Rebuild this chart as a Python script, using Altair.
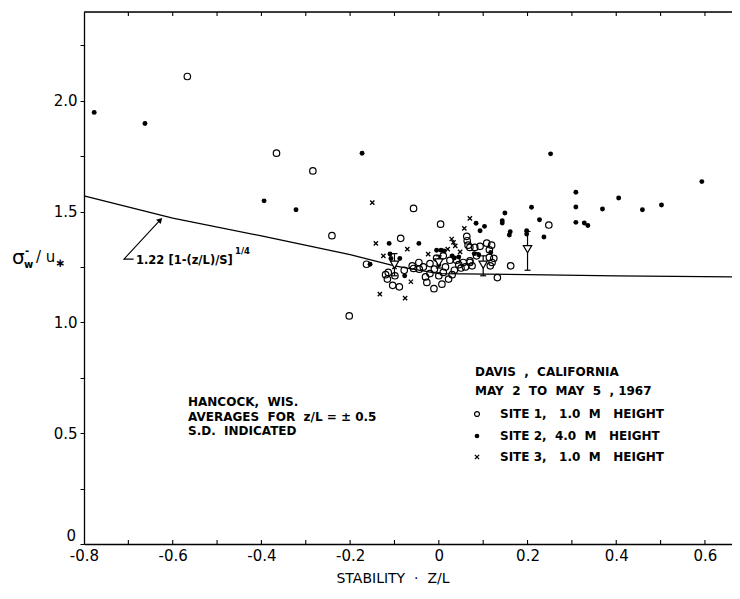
import altair as alt
import pandas as pd

# ---------------- data ----------------
# Site 1, 1.0 m height (open circles)
site1_x = [-0.567, -0.366, -0.284, -0.241, -0.163, -0.202, -0.057, 0.004, -0.086, 0.248,
           0.162, 0.132, -0.114, -0.116, -0.104, -0.089, -0.099, -0.120, -0.078, -0.057,
           -0.044, -0.011, -0.027, 0.007, 0.022, -0.030, -0.020, -0.035, -0.020, -0.010,
           0.000, 0.010, 0.015, 0.030, 0.035, 0.045, 0.050, 0.025, 0.040, 0.055,
           0.060, 0.070, 0.063, 0.064, 0.066, 0.070, 0.081, 0.093, 0.108, 0.119,
           0.114, 0.070, 0.075, 0.114, 0.124, 0.116, 0.085, 0.120, -0.005, 0.010,
           -0.045, -0.060]
site1_y = [2.109, 1.763, 1.683, 1.391, 1.262, 1.029, 1.514, 1.443, 1.379, 1.439,
           1.255, 1.202, 1.225, 1.195, 1.167, 1.160, 1.210, 1.215, 1.235, 1.243,
           1.240, 1.152, 1.180, 1.172, 1.195, 1.205, 1.220, 1.250, 1.265, 1.240,
           1.210, 1.225, 1.250, 1.215, 1.235, 1.260, 1.245, 1.280, 1.280, 1.270,
           1.250, 1.270, 1.388, 1.368, 1.348, 1.338, 1.338, 1.343, 1.357, 1.348,
           1.327, 1.277, 1.255, 1.293, 1.289, 1.255, 1.300, 1.270, 1.290, 1.300,
           1.270, 1.255]

# Site 2, 4.0 m height (filled dots)
site2_x = [-0.777, -0.6625, -0.173, -0.394, -0.322, 0.252, 0.593, 0.309, 0.4055, 0.309,
           0.369, 0.459, 0.502, 0.309, 0.328, 0.336, 0.209, 0.227, 0.237, 0.149,
           0.143, 0.143, 0.161, 0.159, 0.198, 0.198, -0.112, -0.045, -0.110, -0.108,
           -0.088, -0.155, -0.077, 0.084, 0.103, 0.093, 0.117, -0.005, 0.005, 0.012,
           0.030, 0.035, 0.045, 0.080, 0.090, 0.000, 0.000]
site2_y = [1.947, 1.897, 1.763, 1.548, 1.508, 1.760, 1.635, 1.587, 1.561, 1.520,
           1.511, 1.508, 1.529, 1.451, 1.448, 1.437, 1.519, 1.463, 1.385, 1.493,
           1.458, 1.448, 1.409, 1.394, 1.413, 1.398, 1.356, 1.356, 1.308, 1.288,
           1.288, 1.262, 1.210, 1.447, 1.433, 1.413, 1.315, 1.325, 1.325, 1.322,
           1.300, 1.290, 1.295, 1.310, 1.305, 1.280, 1.260]

# Site 3, 1.0 m height (crosses)
site3_x = [-0.150, -0.142, -0.071, -0.063, -0.133, -0.076, 0.029, 0.033, 0.048, -0.024,
           0.0575, 0.070, 0.037, -0.125, 0.020, -0.100]
site3_y = [1.540, 1.356, 1.330, 1.183, 1.127, 1.109, 1.376, 1.361, 1.318, 1.308,
           1.424, 1.469, 1.345, 1.300, 1.330, 1.250]

# Hancock, Wis. averages with S.D.
hancock_x = [-0.1, 0.0, 0.1, 0.2]
hancock_y = [1.26, 1.27, 1.26, 1.33]
hancock_lo = [1.21, 1.245, 1.21, 1.235]
hancock_hi = [1.31, 1.30, 1.30, 1.41]

# 1.22 [1-(z/L)/S]^(1/4) curve
curve_x = [-0.8, -0.6, -0.4, -0.2, -0.1, 0.0, 0.2, 0.4, 0.661]
curve_y = [1.57, 1.47, 1.39, 1.305, 1.255, 1.22, 1.215, 1.21, 1.205]

# leader line of the curve label
leader_x = [-0.688, -0.710, -0.628]
leader_y = [1.285, 1.285, 1.462]

x_ticks = [-0.8, -0.6, -0.4, -0.2, 0.0, 0.2, 0.4, 0.6]
minor_x = [-0.7, -0.6, -0.5, -0.4, -0.3, -0.2, -0.1, 0.0, 0.1, 0.2, 0.3, 0.4, 0.5, 0.6]
y_ticks = [0, 0.25, 0.5, 0.75, 1.0, 1.25, 1.5, 1.75, 2.0, 2.25]

# ---------------- chart ----------------
FONT = "DejaVu Sans"
W, H = 648, 532
X0, Y0 = 84, 12
XMIN, XMAX, YMAX = -0.8, 0.661, 2.4
SP = "\u00a0"

xs = alt.Scale(domain=[XMIN, XMAX], nice=False, zero=False)
ys = alt.Scale(domain=[0, YMAX], nice=False, zero=False)

xaxis = alt.Axis(values=x_ticks, ticks=False, grid=False, domain=True,
                 domainColor="black", domainWidth=1.3, labelFont=FONT,
                 labelFontSize=15, labelColor="black", labelPadding=4,
                 labelFlush=False, labelOverlap=False, title=None,
                 labelExpr="datum.value == 0 ? '0' : (datum.value < 0 ? '-' : '') + format(abs(datum.value), '.1f')")
yaxis = alt.Axis(values=y_ticks, grid=False, domain=True, domainColor="black",
                 domainWidth=1.3, ticks=True, tickSize=4, tickColor="black",
                 labelFont=FONT, labelFontSize=15, labelColor="black",
                 labelPadding=3, labelOverlap=False, title=None,
                 labelExpr="datum.value == 0 ? '' : (round(datum.value * 4) % 2 == 0 ? format(datum.value, '.1f') : '')")


def X(field="x"):
    return alt.X(f"{field}:Q", scale=xs, axis=xaxis)


def Y(field="y"):
    return alt.Y(f"{field}:Q", scale=ys, axis=yaxis)


s1 = pd.DataFrame({"x": site1_x, "y": site1_y})
s2 = pd.DataFrame({"x": site2_x, "y": site2_y})
s3 = pd.DataFrame({"x": site3_x, "y": site3_y})
hk = pd.DataFrame({"x": hancock_x, "y": hancock_y, "lo": hancock_lo, "hi": hancock_hi})
cv = pd.DataFrame({"x": curve_x, "y": curve_y})
ld = pd.DataFrame({"x": leader_x, "y": leader_y, "o": [0, 1, 2]})

tl = 0.018
ticks_df = pd.DataFrame({
    "x": minor_x + minor_x,
    "y": [0.0] * len(minor_x) + [YMAX - tl] * len(minor_x),
    "y2": [tl] * len(minor_x) + [YMAX] * len(minor_x),
})
top_df = pd.DataFrame({"x": [XMIN, XMAX], "y": [YMAX, YMAX]})

layers = []

layers.append(alt.Chart(s1).mark_point(shape="circle", filled=False, stroke="black",
                                        strokeWidth=1.2, size=42, opacity=1)
              .encode(x=X(), y=Y()))
layers.append(alt.Chart(top_df).mark_line(color="black", strokeWidth=1.3)
              .encode(x=X(), y=Y()))
layers.append(alt.Chart(ticks_df).mark_rule(color="black", strokeWidth=1.1)
              .encode(x=X(), y=Y(), y2="y2:Q"))
layers.append(alt.Chart(cv).mark_line(color="black", strokeWidth=1.3)
              .encode(x=X(), y=Y()))
layers.append(alt.Chart(s2).mark_circle(color="black", size=24, opacity=1)
              .encode(x=X(), y=Y()))
layers.append(alt.Chart(s3).mark_point(shape="M-1,-1L1,1M-1,1L1,-1", filled=False,
                                        stroke="black", strokeWidth=1.3, size=18, opacity=1)
              .encode(x=X(), y=Y()))
# Hancock averages: S.D. bars, caps and open inverted triangles
layers.append(alt.Chart(hk).mark_rule(color="black", strokeWidth=1.2)
              .encode(x=X(), y=Y("lo"), y2="hi:Q"))
layers.append(alt.Chart(hk).mark_point(shape="M-1,0L1,0", filled=False, stroke="black",
                                        strokeWidth=1.2, size=36, opacity=1)
              .encode(x=X(), y=Y("lo")))
layers.append(alt.Chart(hk).mark_point(shape="M-1,0L1,0", filled=False, stroke="black",
                                        strokeWidth=1.2, size=36, opacity=1)
              .encode(x=X(), y=Y("hi")))
layers.append(alt.Chart(hk).mark_point(shape="triangle-down", filled=True, fill="white",
                                        stroke="black", strokeWidth=1.2, size=70, opacity=1)
              .encode(x=X(), y=Y()))
# curve label leader with arrow head
layers.append(alt.Chart(ld).mark_line(color="black", strokeWidth=1.1)
              .encode(x=X(), y=Y(), order="o:O"))
layers.append(alt.Chart(ld.iloc[[2]]).mark_point(shape="triangle-up", angle=43, filled=True,
                                                  color="black", size=40, opacity=1)
              .encode(x=X(), y=Y()))

dummy = pd.DataFrame({"a": [0]})


def txt(text, px, py, size=12, weight="bold", align="left", font=FONT):
    return (alt.Chart(dummy)
            .mark_text(text=text, align=align, baseline="middle", font=font,
                       fontSize=size, fontWeight=weight, color="black")
            .encode(x=alt.value(px - X0), y=alt.value(py - Y0)))


def sym(px, py, **kw):
    return (alt.Chart(dummy).mark_point(opacity=1, **kw)
            .encode(x=alt.value(px - X0), y=alt.value(py - Y0)))


def sp(s):
    return s.replace("  ", SP + SP).replace(SP + " ", SP + SP)


# y-axis "0" label, sitting just above the corner as in the original
layers.append(txt("0", 76, 536, size=15, weight="normal", align="right"))

# curve label
layers.append(txt("1.22 [1-(z/L)/S]", 136, 261, size=11.5, weight="bold"))
layers.append(txt("1/4", 235, 251, size=8.5, weight="bold"))

# Hancock block
layers.append(txt(sp("HANCOCK,  WIS."), 188, 402))
layers.append(txt(sp("AVERAGES  FOR  z/L = ± 0.5"), 188, 417))
layers.append(txt(sp("S.D.  INDICATED"), 188, 431))

# Davis legend block
layers.append(txt(sp("DAVIS  ,  CALIFORNIA"), 475, 372))
layers.append(txt(sp("MAY  2  TO  MAY  5  , 1967"), 475, 391))
layers.append(txt(sp("SITE 1,   1.0  M   HEIGHT"), 500, 414))
layers.append(txt(sp("SITE 2,  4.0  M   HEIGHT"), 500, 436))
layers.append(txt(sp("SITE 3,   1.0  M   HEIGHT"), 500, 457))
layers.append(sym(477, 414, shape="circle", filled=False, stroke="black", strokeWidth=1.2, size=24))
layers.append(sym(477, 436, shape="circle", filled=True, color="black", size=22))
layers.append(sym(477, 457, shape="M-1,-1L1,1M-1,1L1,-1", filled=False, stroke="black",
                  strokeWidth=1.3, size=18))

# y-axis title: sigma_w / u_*
layers.append(txt("σ", 12, 258, size=20, weight="normal"))
layers.append(txt("w", 24, 265, size=10, weight="bold"))
layers.append(txt("-", 25, 251, size=10, weight="bold"))
layers.append(txt("/" + SP + "u", 36, 257, size=15, weight="normal"))
layers.append(txt("∗", 55, 263, size=12, weight="bold"))

# x-axis title
layers.append(txt(sp("STABILITY  ·  Z/L"), 393, 579, size=14, weight="normal", align="center"))

chart = (alt.layer(*layers)
         .properties(width=W, height=H,
                     padding={"left": 76, "top": 4, "right": 0, "bottom": 47},
                     autosize=alt.AutoSizeParams(type="none"))
         .configure_view(stroke=None)
         .configure(background="white"))

chart.save("out.html", embed_options={"renderer": "svg", "actions": False})
